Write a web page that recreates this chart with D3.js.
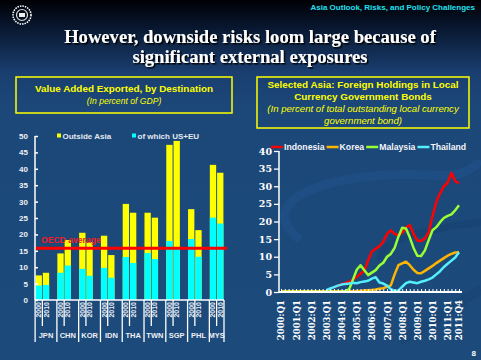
<!DOCTYPE html>
<html>
<head>
<meta charset="utf-8">
<script src="https://cdn.jsdelivr.net/npm/d3@7"></script>
<style>
  body { margin: 0; background: #1b4a7b; }
  svg { display: block; }
  .lbl { font-family: "Liberation Sans", Arial, sans-serif; font-weight: bold; }
  .serif { font-family: "DejaVu Serif", serif; font-weight: bold; }
</style>
</head>
<body>
<div id="chart"></div>
<script>
// left panel: value added exported (% of GDP)
const countries = ["JPN", "CHN", "KOR", "IDN", "THA", "TWN", "SGP", "PHL", "MYS"];
const years = ["2000", "2010"];
const outsideAsia2000 = [7.5, 14.2, 20.5, 19.6, 29.3, 26.6, 47.3, 27.7, 41.2];
const outsideAsia2010 = [8.3, 18.3, 17.7, 13.7, 26.6, 25.1, 48.5, 21.3, 38.8];
const usEu2000 = [4.4, 8.3, 9.5, 9.8, 13.1, 14.3, 18.0, 18.6, 25.1];
const usEu2010 = [4.6, 10.5, 7.4, 6.8, 11.3, 12.5, 15.7, 13.2, 23.3];
const oecdAverage = 15.8;
const leftTicks = [0, 5, 10, 15, 20, 25, 30, 35, 40, 45, 50];

// right panel: foreign holdings of local currency govt bonds, 2000:Q1 - 2011:Q4
const quarterTickLabels = ["2000:Q1", "2001:Q1", "2002:Q1", "2003:Q1", "2004:Q1", "2005:Q1",
  "2006:Q1", "2007:Q1", "2008:Q1", "2009:Q1", "2010:Q1", "2011:Q1", "2011:Q4"];
const seriesNames = ["Indonesia", "Korea", "Malaysia", "Thailand"];
const indonesia = [null, null, null, null, null, null, null, null, null, null, null, null, null, null,
  1.2, 1.8, 2.2, 2.6, 2.9, 3.5, 4.3, 5.2, 6.0, 9.0, 11.5, 12.3, 13.0, 14.3, 16.5, 17.5, 16.5, 16.1,
  16.8, 18.3, 19.0, 16.5, 14.6, 14.5, 15.2, 17.0, 21.5, 25.5, 28.0, 30.0, 31.0, 33.8, 31.5, 30.8];
const korea = [0.2, 0.2, 0.2, 0.2, 0.2, 0.2, 0.2, 0.2, 0.2, 0.2, 0.2, 0.2, 0.2, 0.2, 0.2, 0.2,
  0.2, 0.2, 0.2, 0.2, 0.3, 0.3, 0.4, 0.5, 0.6, 0.7, 0.9, 1.1, 1.5, 1.9, 5.0, 7.6,
  8.1, 8.6, 7.6, 6.3, 5.4, 5.3, 6.0, 6.7, 7.4, 8.2, 8.9, 9.6, 10.3, 10.8, 11.2, 11.3];
const malaysia = [0.1, 0.1, 0.1, 0.1, 0.1, 0.1, 0.1, 0.1, 0.1, 0.1, 0.1, 0.1, 0.1, 0.1, 0.1, 0.1,
  0.1, 0.3, 0.8, 3.5, 6.3, 7.6, 6.2, 4.8, 5.5, 6.2, 7.5, 8.3, 10.0, 10.8, 12.5, 15.7,
  18.2, 18.0, 15.5, 12.5, 10.3, 10.2, 11.8, 14.7, 17.5, 18.4, 19.8, 21.0, 21.6, 22.0, 23.2, 24.6];
const thailand = [null, null, null, null, null, null, null, null, null, null, null, null,
  0.5, 1.0, 1.4, 1.8, 2.1, 2.3, 2.4, 2.6, 2.5, 2.8, 3.0, 3.2, 3.8, 4.2, 2.7, 2.4, 1.8, 0.8, 0.3, 0.4,
  1.5, 2.5, 2.9, 2.7, 2.5, 2.9, 3.2, 3.6, 4.1, 5.0, 5.9, 7.1, 8.0, 8.9, 9.8, 11.3];
const rightTicks = [0, 5, 10, 15, 20, 25, 30, 35, 40];

const W = 481, H = 360;
const svg = d3.select("#chart").append("svg").attr("width", W).attr("height", H);

// background
const defs = svg.append("defs");
const bg = defs.append("linearGradient").attr("id", "bg").attr("x1", 0).attr("y1", 0).attr("x2", 0).attr("y2", 1);
bg.append("stop").attr("offset", "0%").attr("stop-color", "#000004");
bg.append("stop").attr("offset", "6%").attr("stop-color", "#061226");
bg.append("stop").attr("offset", "20%").attr("stop-color", "#1a3e70");
bg.append("stop").attr("offset", "30%").attr("stop-color", "#1b4879");
bg.append("stop").attr("offset", "100%").attr("stop-color", "#1b4a7b");
svg.append("rect").attr("width", W).attr("height", H).attr("fill", "url(#bg)");

// drop shadow for the slide title
const shadow = defs.append("filter").attr("id", "shadow").attr("x", "-5%").attr("y", "-20%")
  .attr("width", "110%").attr("height", "140%");
shadow.append("feDropShadow").attr("dx", 1.5).attr("dy", 1.5).attr("stdDeviation", 0)
  .attr("flood-color", "#000").attr("flood-opacity", 1);

// faint swoosh behind right chart
svg.append("path")
  .attr("d", "M 300 240 C 250 200, 330 170, 430 175 C 480 178, 470 160, 481 165")
  .attr("fill", "none").attr("stroke", "#21518a").attr("stroke-width", 9).attr("opacity", 0.6);
svg.append("path")
  .attr("d", "M 380 260 C 380 240, 420 230, 481 222")
  .attr("fill", "none").attr("stroke", "#174170").attr("stroke-width", 7).attr("opacity", 0.6);
svg.append("path")
  .attr("d", "M 400 340 C 440 320, 460 300, 481 290")
  .attr("fill", "none").attr("stroke", "#174170").attr("stroke-width", 10).attr("opacity", 0.5);

// logo
const logo = svg.append("g").attr("transform", "translate(22,15)");
logo.append("circle").attr("r", 9).attr("fill", "none").attr("stroke", "#fff")
  .attr("stroke-width", 1.6).attr("stroke-dasharray", "1.5,1");
logo.append("circle").attr("r", 5.5).attr("fill", "none").attr("stroke", "#ddd").attr("stroke-width", 1.2);
logo.append("rect").attr("x", -3).attr("y", -2).attr("width", 6).attr("height", 4).attr("fill", "#eee");

// header
svg.append("text").attr("class", "lbl").attr("x", 475).attr("y", 10).attr("text-anchor", "end")
  .attr("font-size", 8).attr("fill", "#22e0f0").text("Asia Outlook, Risks, and Policy Challenges");

const titleLines = ["However, downside risks loom large because of", "significant external exposures"];
svg.append("g").attr("filter", "url(#shadow)").selectAll("text").data(titleLines).enter().append("text")
  .attr("x", 250).attr("y", (d, i) => 43 + i * 19.5).attr("text-anchor", "middle")
  .attr("font-family", "Liberation Serif, serif").attr("font-weight", "bold")
  .attr("font-size", 18.6).attr("fill", "#fff").text(d => d);

// title boxes
function titleBox(x0, y0, x1, y1, boldLines, italicLines, firstY, italicSize) {
  svg.append("rect").attr("x", x0).attr("y", y0).attr("width", x1 - x0).attr("height", y1 - y0)
    .attr("fill", "none").attr("stroke", "#ffff00").attr("stroke-width", 1.5);
  const cx = (x0 + x1) / 2;
  let y = firstY;
  boldLines.forEach(t => {
    svg.append("text").attr("class", "lbl").attr("x", cx).attr("y", y).attr("text-anchor", "middle")
      .attr("font-size", 9.9).attr("fill", "#ffff00").text(t);
    y += 12;
  });
  italicLines.forEach(t => {
    svg.append("text").attr("x", cx).attr("y", y).attr("text-anchor", "middle")
      .attr("font-family", "Liberation Sans, Arial, sans-serif").attr("font-style", "italic")
      .attr("font-size", italicSize).attr("fill", "#ffff00").text(t);
    y += 11.5;
  });
}
titleBox(16, 77, 232, 113, ["Value Added Exported, by Destination"], ["(In percent of GDP)"], 92, 8.6);
titleBox(257, 77, 469, 128, ["Selected Asia: Foreign Holdings in Local", "Currency Government Bonds"],
  ["(In percent of total outstanding local currency", "government bond)"], 88, 9.6);

// ---------- left chart ----------
const slots = [];
countries.forEach((c, i) => {
  years.forEach(y => slots.push(c + "|" + y));
  if (i < countries.length - 1) slots.push(c + "|gap");
});
const xL = d3.scaleBand().domain(slots).range([35, 224]).paddingInner(0.13).paddingOuter(0.08);
const yL = d3.scaleLinear().domain([0, 50]).range([300, 136]);

const bars = [];
countries.forEach((c, i) => {
  bars.push({ key: c + "|2000", total: outsideAsia2000[i], useu: usEu2000[i] });
  bars.push({ key: c + "|2010", total: outsideAsia2010[i], useu: usEu2010[i] });
});

const gL = svg.append("g");
gL.selectAll("rect.tot").data(bars).enter().append("rect").attr("class", "tot")
  .attr("x", d => xL(d.key)).attr("width", xL.bandwidth())
  .attr("y", d => yL(d.total)).attr("height", d => yL(0) - yL(d.total)).attr("fill", "#ffff00");
gL.selectAll("rect.ue").data(bars).enter().append("rect").attr("class", "ue")
  .attr("x", d => xL(d.key)).attr("width", xL.bandwidth())
  .attr("y", d => yL(d.useu)).attr("height", d => yL(0) - yL(d.useu)).attr("fill", "#00ffff");

// OECD average line
svg.append("line").attr("x1", 35).attr("x2", 227).attr("y1", yL(oecdAverage)).attr("y2", yL(oecdAverage))
  .attr("stroke", "#ff0000").attr("stroke-width", 3);
svg.append("text").attr("class", "lbl").attr("x", 41).attr("y", yL(oecdAverage) - 5)
  .attr("font-size", 8.6).attr("fill", "#ee1c25").text("OECD average");

// left y axis
const axL = svg.append("g").attr("transform", "translate(35,0)")
  .call(d3.axisLeft(yL).tickValues(leftTicks).tickSize(-3).tickPadding(7));
axL.select(".domain").attr("stroke", "#fff").attr("stroke-width", 1.5).attr("d", "M0,136V300");
axL.selectAll(".tick line").attr("stroke", "#fff").attr("stroke-width", 1.5);
axL.selectAll(".tick text").attr("class", "lbl").attr("font-size", 8).attr("fill", "#eef0f6");

// left x axis
const gap = xL.step() - xL.bandwidth();
svg.append("line").attr("x1", 35).attr("x2", 224).attr("y1", 300).attr("y2", 300)
  .attr("stroke", "#fff").attr("stroke-width", 1.5);
countries.forEach((c, i) => {
  const left = xL(c + "|2000") - gap / 2;
  const mid = xL(c + "|2010") - gap / 2;
  const right = i < countries.length - 1 ? xL(c + "|gap") + xL.bandwidth() + gap / 2 : 224;
  svg.append("line").attr("x1", left).attr("x2", left).attr("y1", 300).attr("y2", 342)
    .attr("stroke", "#fff").attr("stroke-width", 1.3);
  svg.append("line").attr("x1", mid).attr("x2", mid).attr("y1", 300).attr("y2", 326)
    .attr("stroke", "#fff").attr("stroke-width", 1.3);
  if (i === countries.length - 1) {
    svg.append("line").attr("x1", right).attr("x2", right).attr("y1", 300).attr("y2", 342)
      .attr("stroke", "#fff").attr("stroke-width", 1.3);
  }
  years.forEach(y => {
    const cx = xL(c + "|" + y) + xL.bandwidth() / 2;
    svg.append("text").attr("class", "lbl")
      .attr("transform", `translate(${cx + 2.5},302) rotate(-90)`)
      .attr("text-anchor", "end").attr("font-size", 7).attr("fill", "#eef0f6").text(y);
  });
  svg.append("text").attr("class", "lbl").attr("x", (left + right) / 2).attr("y", 338)
    .attr("text-anchor", "middle").attr("font-size", 7.5).attr("fill", "#eef0f6").text(c);
});

// left legend
const legL = [["Outside Asia", "#ffff00", 57], ["of which US+EU", "#00ffff", 132]];
legL.forEach(([t, col, x]) => {
  svg.append("rect").attr("x", x).attr("y", 133.5).attr("width", 4).attr("height", 4).attr("fill", col);
  svg.append("text").attr("class", "lbl").attr("x", x + 5.5).attr("y", 138.5)
    .attr("font-size", 8).attr("fill", "#e4e8f0").text(t);
});

// ---------- right chart ----------
const xR = d3.scaleLinear().domain([0, 47]).range([281, 459]);
const yR = d3.scaleLinear().domain([0, 40]).range([292, 151]);
const seriesData = [indonesia, korea, malaysia, thailand];
const seriesColors = ["#ff0000", "#ffb400", "#99ff33", "#55eeff"];

const axR = svg.append("g").attr("transform", "translate(279,0)")
  .call(d3.axisLeft(yR).tickValues(rightTicks).tickSize(5).tickPadding(2));
axR.select(".domain").attr("stroke", "#fff").attr("stroke-width", 1.5).attr("d", "M0,151V292");
axR.selectAll(".tick line").attr("stroke", "#fff").attr("stroke-width", 1.3);
axR.selectAll(".tick text").attr("class", "serif").attr("font-size", 9.5).attr("fill", "#fff");

const line = d3.line().defined(d => d != null).x((d, i) => xR(i)).y(d => yR(d));
svg.append("g").selectAll("path").data(seriesData).enter().append("path")
  .attr("d", d => line(d)).attr("fill", "none")
  .attr("stroke", (d, i) => seriesColors[i]).attr("stroke-width", 2.5).attr("stroke-linejoin", "round");

// quarter axis
const qIdx = d3.range(48);
const labelIdx = quarterTickLabels.map(t => {
  const yr = +t.slice(0, 4), q = +t.slice(6);
  return (yr - 2000) * 4 + q - 1;
});
const axQ = svg.append("g").attr("transform", "translate(0,292)")
  .call(d3.axisBottom(xR).tickValues(qIdx).tickSize(-3).tickPadding(6)
    .tickFormat(i => { const k = labelIdx.indexOf(i); return k >= 0 ? quarterTickLabels[k] : ""; }));
axQ.select(".domain").attr("stroke", "#fff").attr("stroke-width", 1.8).attr("d", "M279,0H462");
axQ.selectAll(".tick line").attr("stroke", "#fff").attr("stroke-width", 1);
axQ.selectAll(".tick text").attr("class", "serif").attr("font-size", 8.5).attr("fill", "#fff")
  .attr("text-anchor", "end").attr("dy", "0.35em").attr("transform", "translate(0,2) rotate(-90)")
  .attr("x", -6).attr("y", 0);

// right legend
let lx = 271;
seriesNames.forEach((n, i) => {
  svg.append("line").attr("x1", lx).attr("x2", lx + 12).attr("y1", 147).attr("y2", 147)
    .attr("stroke", seriesColors[i]).attr("stroke-width", 2.5);
  const t = svg.append("text").attr("class", "lbl").attr("x", lx + 13).attr("y", 150)
    .attr("font-size", 8.7).attr("fill", "#f4f4f8").text(n);
  lx += 13 + t.node().getComputedTextLength() + 2;
});

// page number
svg.append("text").attr("class", "lbl").attr("x", 476).attr("y", 356).attr("text-anchor", "end")
  .attr("font-size", 8).attr("font-weight", "normal").attr("fill", "#fff").text("8");
</script>
</body>
</html>
